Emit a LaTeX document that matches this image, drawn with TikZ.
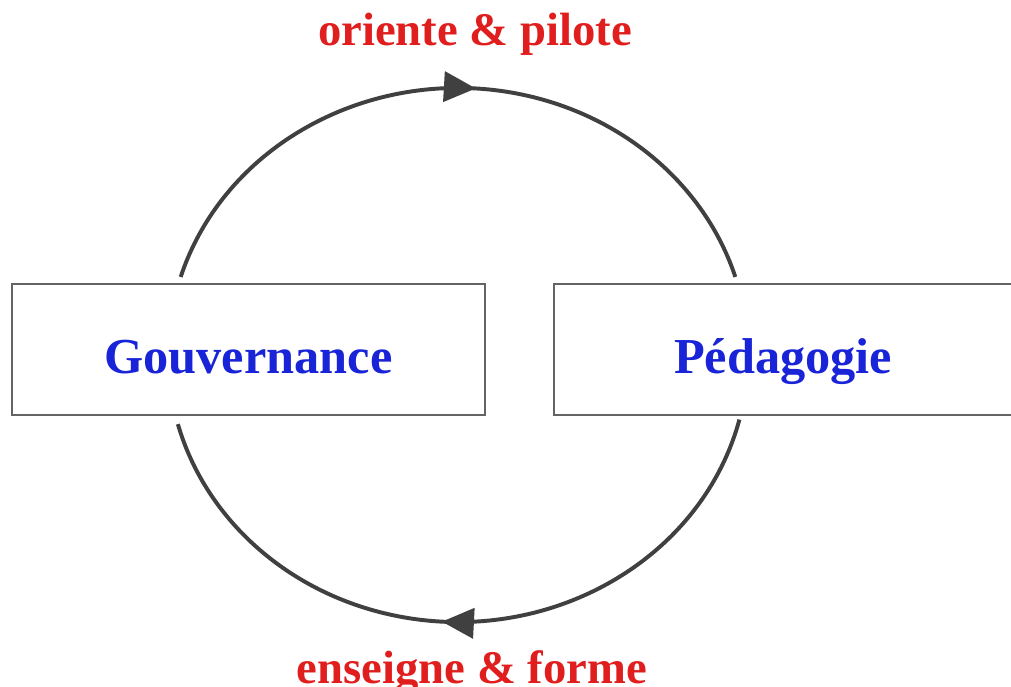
\documentclass[tikz,border=0pt]{standalone}
\usepackage{fontspec}
\setmainfont{Liberation Serif}
\usetikzlibrary{positioning, arrows.meta, decorations.markings}
\definecolor{boxTextColor}{RGB}{25,35,215}
\definecolor{labelColor}{RGB}{225,30,30}
\definecolor{cycleColor}{RGB}{64,64,64}
\definecolor{boxLineColor}{RGB}{100,100,100}
\tikzstyle{pixelGrid} = [x = 0.025cm, y = -0.025cm]
\tikzstyle{boxStyle} = [draw=boxLineColor, line width=1.4pt, fill=white, inner sep=0, minimum height=3.275cm, text height=1.3cm, text depth=0.125cm, text=boxTextColor, font=\fontsize{35.8}{40}\selectfont\bfseries]
\tikzstyle{labelStyle} = [text=labelColor, anchor=base, inner sep=0, font=\fontsize{33.2}{38}\selectfont\bfseries]
\tikzstyle{cycleLine} = [draw=cycleColor, line width=2.8pt]
\tikzstyle{midArrow} = [postaction=decorate, decoration={markings, mark=at position 0.525 with {\arrow{Triangle[length=0.8cm, width=0.75cm]}}}]

\begin{document}
\begin{tikzpicture}[pixelGrid]
  \useasboundingbox (0,0) rectangle (1011,686);

  \node[boxStyle, minimum width=11.825cm] (gouv) at (248.5,349.5) {Gouvernance};
  \node[boxStyle, minimum width=11.45cm, right=1.675cm of gouv] (pedag) {Pédagogie};

  % ellipse the two arcs lie on
  \coordinate (cycleCenter) at (458,355);
  \path (cycleCenter) ++(-163:290 and 267) coordinate (gouvOut);
  \path (cycleCenter) ++(14:290 and 267) coordinate (pedagOut);

  \draw[cycleLine, midArrow] (gouvOut) arc[start angle=-163, end angle=-17, x radius=290, y radius=267];
  \draw[cycleLine, midArrow] (pedagOut) arc[start angle=14, end angle=165, x radius=290, y radius=267];

  \node[labelStyle] (orienteLabel) at (475,45) {oriente \& pilote};
  \node[labelStyle] (enseigneLabel) at (472,683) {enseigne \& forme};
\end{tikzpicture}
\end{document}
